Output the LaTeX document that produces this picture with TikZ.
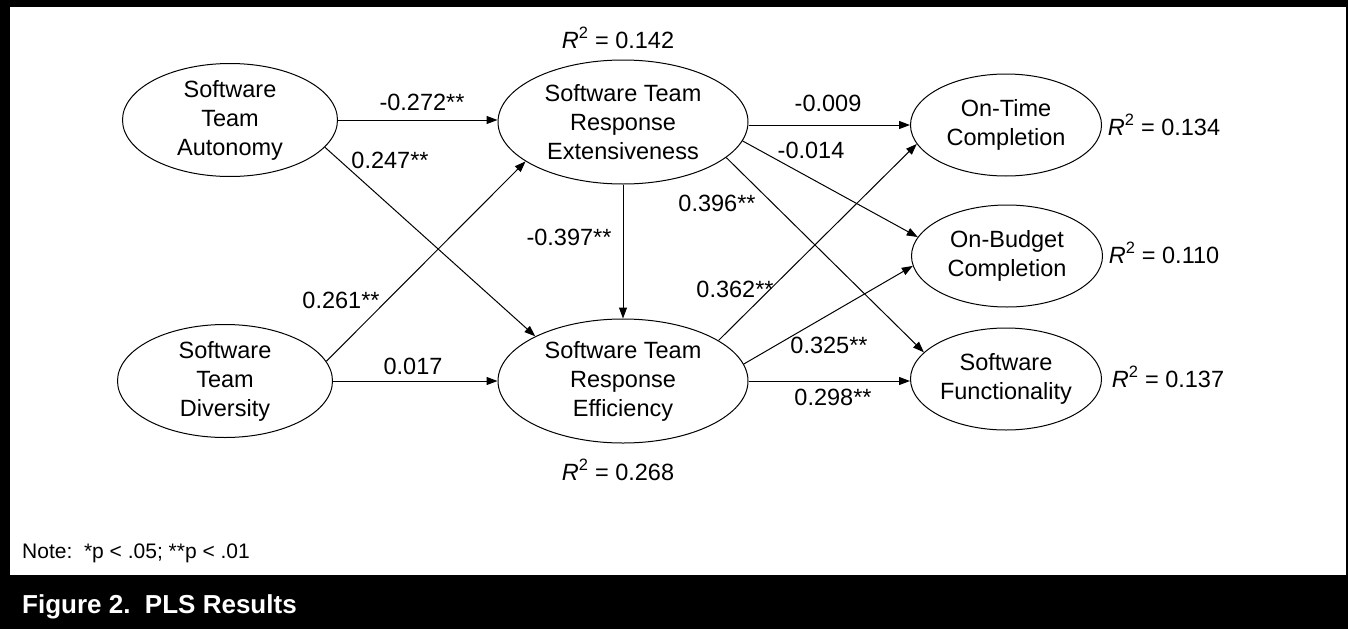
\documentclass[tikz,border=0pt]{standalone}
\usepackage{fontspec}
\setmainfont{Liberation Sans}
\usetikzlibrary{shapes.geometric,arrows.meta}
\begin{document}
\begin{tikzpicture}[x=1pt,y=-1pt,
  txt/.style={font=\fontsize{23.5}{29}\selectfont},
  lat/.style={txt,ellipse,draw,line width=1pt,align=center,inner sep=0pt},
  big/.style={lat,minimum width=250pt,minimum height=124pt},
  mid/.style={lat,minimum width=215pt,minimum height=113pt},
  sml/.style={lat,minimum width=191pt,minimum height=102pt},
  lbl/.style={txt,inner sep=0pt},
  rsq/.style={txt,inner sep=0pt,anchor=base},
  arr/.style={line width=1pt,-{Triangle[length=11pt,width=8pt]}}]
\useasboundingbox (0,0) rectangle (1348,629);
\fill[black] (0,0) rectangle (1348,629);
\fill[white] (10,7) rectangle (1346,575);

\node[mid] (aut) at (230,120) {Software\\Team\\Autonomy};
\node[mid] (div) at (225,381) {Software\\Team\\Diversity};
\node[big] (ext) at (623,122) {Software Team\\Response\\Extensiveness};
\node[big] (eff) at (623,381) {Software Team\\Response\\Efficiency};
\node[sml] (ot) at (1006,125) {On-Time\\Completion};
\node[sml] (ob) at (1007,256) {On-Budget\\Completion};
\node[sml] (fn) at (1006,379) {Software\\Functionality};

\draw[arr] (aut.east) -- (aut.east -| ext.west);
\draw[arr] (aut.-16) -- (eff.153.4);
\draw[arr] (div.11) -- (ext.202.7);
\draw[arr] (div.east) -- (div.east -| eff.west);
\draw[arr] (ext.south) -- (eff.north);
\draw[arr] (ot.west -| ext.east) -- (ot.west);
\draw[arr] (ext.-9) -- (ob.168.3);
\draw[arr] (ext.-19.1) -- (fn.162.6);
\draw[arr] (eff.23.9) -- (ot.192.4);
\draw[arr] (eff.8.4) -- (ob.186.7);
\draw[arr] (eff.east) -- (eff.east -| fn.west);

\node[lbl] (l1) at (422,102) {-0.272**};
\node[lbl] (l2) at (390,160) {0.247**};
\node[lbl] (l3) at (341,300) {0.261**};
\node[lbl] (l4) at (413,366) {0.017};
\node[lbl] (l5) at (569,237) {-0.397**};
\node[lbl] (l6) at (828,103) {-0.009};
\node[lbl] (l7) at (811,150) {-0.014};
\node[lbl] (l8) at (717,203) {0.396**};
\node[lbl] (l9) at (735,289) {0.362**};
\node[lbl] (l10) at (829,345) {0.325**};
\node[lbl] (l11) at (833,397) {0.298**};

\node[rsq] (r1) at (618,48) {\textit{R}\textsuperscript{2} = 0.142};
\node[rsq] (r2) at (618,480) {\textit{R}\textsuperscript{2} = 0.268};
\node[rsq] (r3) at (1164,135) {\textit{R}\textsuperscript{2} = 0.134};
\node[rsq] (r4) at (1164,263) {\textit{R}\textsuperscript{2} = 0.110};
\node[rsq] (r5) at (1168,387) {\textit{R}\textsuperscript{2} = 0.137};

\node[inner sep=0pt,anchor=west,font=\fontsize{21}{25}\selectfont] (note) at (22,553) {Note:\ \ *p < .05; **p < .01};
\node[inner sep=0pt,anchor=west,text=white,font=\fontsize{26}{30}\selectfont\bfseries] (cap) at (22,607) {Figure 2.\ \ PLS Results};
\end{tikzpicture}
\end{document}
